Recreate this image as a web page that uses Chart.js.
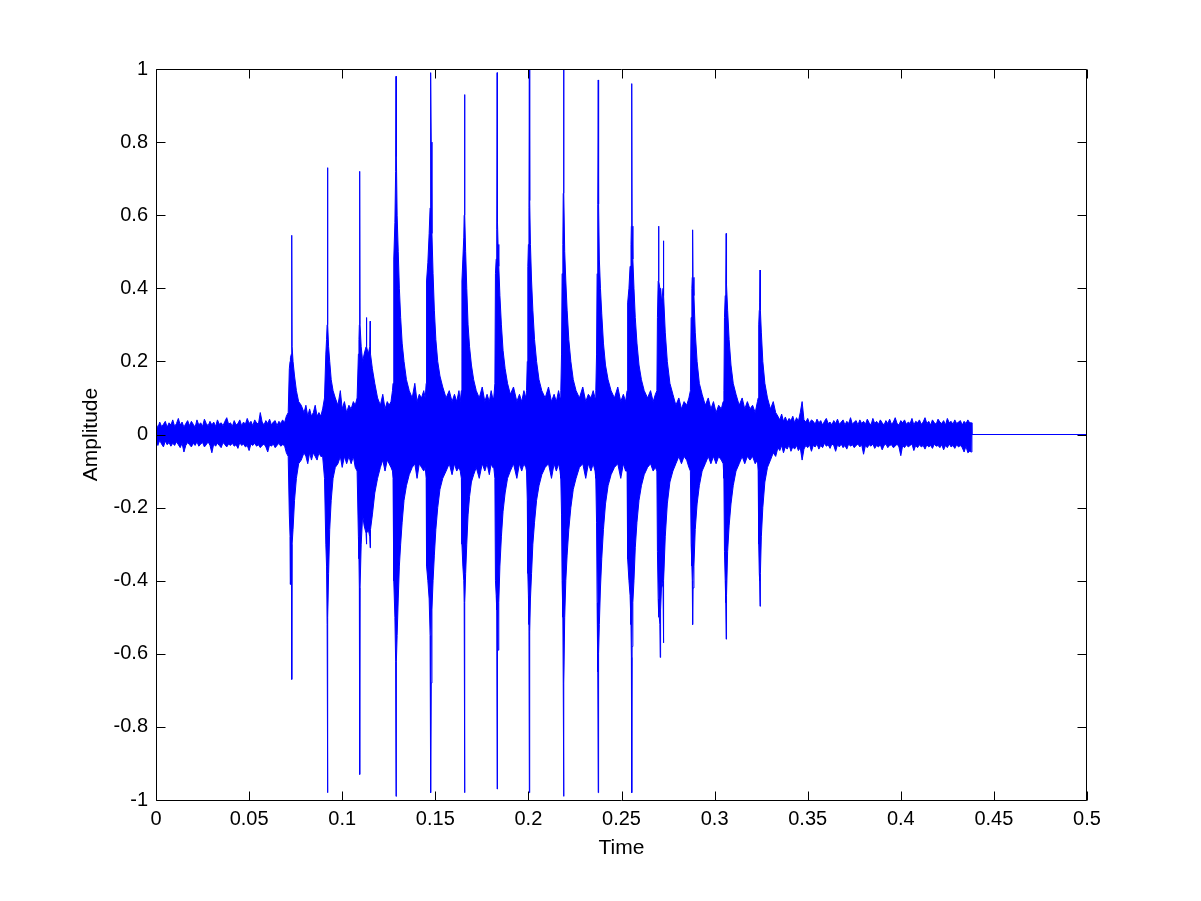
<!DOCTYPE html>
<html>
<head>
<meta charset="utf-8">
<title>Amplitude vs Time</title>
<script src="https://cdn.jsdelivr.net/npm/chart.js@4.4.1/dist/chart.umd.min.js"></script>
<style>
  html, body { margin: 0; padding: 0; background: #fff; }
  #wave { display: block; }
</style>
</head>
<body>
<canvas id="wave" width="1201" height="901"></canvas>
<script>
const timeTicks = [0, 0.05, 0.1, 0.15, 0.2, 0.25, 0.3, 0.35, 0.4, 0.45, 0.5];
const ampTicks = [-1, -0.8, -0.6, -0.4, -0.2, 0, 0.2, 0.4, 0.6, 0.8, 1];

// envelope of the waveform: time (s), upper and lower amplitude.
// one line per stretch: lead noise, the 15 clicks, tail noise, silence
const timeSec = [
  0.000, 0.001, 0.002, 0.003, 0.004, 0.005, 0.006, 0.007, 0.008, 0.009,
  0.010, 0.011, 0.012, 0.013, 0.014, 0.015, 0.016, 0.017, 0.018, 0.019,
  0.020, 0.021, 0.022, 0.023, 0.024, 0.025, 0.026, 0.027, 0.028, 0.029,
  0.030, 0.031, 0.032, 0.033, 0.034, 0.035, 0.036, 0.037, 0.038, 0.039,
  0.040, 0.041, 0.042, 0.043, 0.044, 0.045, 0.046, 0.047, 0.048, 0.049,
  0.050, 0.051, 0.052, 0.053, 0.054, 0.055, 0.056, 0.057, 0.058, 0.059,
  0.060, 0.061, 0.062, 0.063, 0.064, 0.065, 0.066, 0.067, 0.068, 0.069,
  0.0700, 0.0710, 0.0716, 0.0720, 0.0722, 0.0727, 0.0729, 0.0731, 0.0736, 0.0744, 0.0754, 0.0766, 0.0780, 0.0795, 0.0805, 0.0815, 0.0825, 0.0835, 0.0845, 0.0855, 0.0865, 0.0875, 0.0885,
  0.0895, 0.0905, 0.0912, 0.0916, 0.0919, 0.0921, 0.0923, 0.0927, 0.0933, 0.0941, 0.0951, 0.0963, 0.0977, 0.0990, 0.1000, 0.1012, 0.1024, 0.1036, 0.1048, 0.1060, 0.1070,
  0.1080, 0.1087, 0.1090, 0.1092, 0.1094, 0.1096, 0.1102, 0.1110, 0.1118, 0.1128, 0.1130, 0.1132, 0.1140, 0.1148, 0.1150, 0.1152, 0.1162, 0.1175, 0.1190, 0.1205, 0.1218, 0.1230, 0.1242, 0.1252,
  0.1262, 0.1270, 0.1273, 0.1277, 0.1283, 0.1287, 0.1289, 0.1291, 0.1295, 0.1301, 0.1307, 0.1314, 0.1322, 0.1332, 0.1345, 0.1360, 0.1376, 0.1390, 0.1402, 0.1414, 0.1426, 0.1438,
  0.1446, 0.1451, 0.1453, 0.1460, 0.1467, 0.1472, 0.1474, 0.1476, 0.1478, 0.1482, 0.1488, 0.1495, 0.1503, 0.1513, 0.1525, 0.1540, 0.1558, 0.1575, 0.1590, 0.1603, 0.1615, 0.1627,
  0.1634, 0.1640, 0.1643, 0.1648, 0.1653, 0.1655, 0.1657, 0.1659, 0.1663, 0.1669, 0.1676, 0.1684, 0.1694, 0.1706, 0.1720, 0.1736, 0.1752, 0.1766, 0.1778, 0.1790, 0.1800, 0.1808,
  0.1814, 0.1820, 0.1823, 0.1827, 0.1830, 0.1832, 0.1834, 0.1837, 0.1841, 0.1847, 0.1855, 0.1864, 0.1875, 0.1888, 0.1903, 0.1920, 0.1938, 0.1952, 0.1964, 0.1976, 0.1986,
  0.1990, 0.1994, 0.1997, 0.2000, 0.2003, 0.2005, 0.2007, 0.2011, 0.2017, 0.2024, 0.2033, 0.2044, 0.2057, 0.2072, 0.2090, 0.2108, 0.2124, 0.2138, 0.2150, 0.2162, 0.2170,
  0.2174, 0.2178, 0.2181, 0.2185, 0.2187, 0.2189, 0.2191, 0.2195, 0.2201, 0.2208, 0.2217, 0.2228, 0.2241, 0.2256, 0.2274, 0.2292, 0.2308, 0.2322, 0.2336, 0.2348, 0.2358,
  0.2362, 0.2366, 0.2369, 0.2372, 0.2373, 0.2375, 0.2377, 0.2381, 0.2387, 0.2394, 0.2403, 0.2414, 0.2428, 0.2444, 0.2462, 0.2480, 0.2496, 0.2510, 0.2522,
  0.2530, 0.2533, 0.2540, 0.2546, 0.2551, 0.2553, 0.2555, 0.2557, 0.2561, 0.2567, 0.2574, 0.2583, 0.2594, 0.2607, 0.2622, 0.2640, 0.2656, 0.2670, 0.2682,
  0.2690, 0.2693, 0.2697, 0.2699, 0.2701, 0.2706, 0.2708, 0.2710, 0.2716, 0.2723, 0.2725, 0.2727, 0.2735, 0.2746, 0.2760, 0.2776, 0.2792, 0.2808, 0.2822, 0.2836, 0.2850, 0.2862,
  0.2870, 0.2874, 0.2878, 0.2880, 0.2882, 0.2884, 0.2889, 0.2896, 0.2906, 0.2918, 0.2933, 0.2950, 0.2966, 0.2980, 0.2994, 0.3008, 0.3022, 0.3036, 0.3046,
  0.3050, 0.3053, 0.3057, 0.3060, 0.3062, 0.3064, 0.3070, 0.3078, 0.3088, 0.3100, 0.3115, 0.3132, 0.3148, 0.3162, 0.3176, 0.3190, 0.3204, 0.3218, 0.3230,
  0.3234, 0.3237, 0.3240, 0.3242, 0.3244, 0.3246, 0.3251, 0.3259, 0.3270, 0.3284, 0.3300, 0.3315, 0.3328,
  0.334, 0.335, 0.336, 0.337, 0.338, 0.339, 0.340, 0.341, 0.342, 0.343,
  0.344, 0.345, 0.346, 0.347, 0.348, 0.349, 0.350, 0.351, 0.352, 0.353,
  0.354, 0.355, 0.356, 0.357, 0.358, 0.359, 0.360, 0.361, 0.362, 0.363,
  0.364, 0.365, 0.366, 0.367, 0.368, 0.369, 0.370, 0.371, 0.372, 0.373,
  0.374, 0.375, 0.376, 0.377, 0.378, 0.379, 0.380, 0.381, 0.382, 0.383,
  0.384, 0.385, 0.386, 0.387, 0.388, 0.389, 0.390, 0.391, 0.392, 0.393,
  0.394, 0.395, 0.396, 0.397, 0.398, 0.399, 0.400, 0.401, 0.402, 0.403,
  0.404, 0.405, 0.406, 0.407, 0.408, 0.409, 0.410, 0.411, 0.412, 0.413,
  0.414, 0.415, 0.416, 0.417, 0.418, 0.419, 0.420, 0.421, 0.422, 0.423,
  0.424, 0.425, 0.426, 0.427, 0.428, 0.429, 0.430, 0.431, 0.432, 0.433,
  0.434, 0.435, 0.436, 0.437,
  0.4380, 0.4382, 0.5,
];
const upperAmp = [
  .030, .018, .034, .022, .028, .036, .020, .032, .026, .040,
  .022, .030, .044, .026, .034, .020, .030, .038, .024, .036,
  .028, .020, .040, .026, .032, .022, .042, .030, .024, .036,
  .026, .034, .022, .040, .028, .032, .024, .036, .046, .028,
  .032, .022, .038, .026, .030, .040, .024, .034, .028, .044,
  .030, .036, .024, .040, .032, .028, .060, .034, .026, .038,
  .030, .042, .026, .034, .038, .024, .036, .030, .040, .032,
  .05, .06, .18, .20, .21, .22, .545, .24, .20, .16, .12, .09, .08, .06, .08, .05, .07, .05, .06, .08, .05, .06, .05,
  .07, .10, .22, .26, .30, .73, .30, .24, .20, .15, .12, .10, .08, .12, .07, .09, .06, .08, .07, .09, .08,
  .10, .22, .26, .30, .72, .30, .24, .20, .22, .24, .32, .24, .22, .24, .31, .22, .18, .14, .10, .08, .11, .07, .09, .08,
  .09, .12, .14, .48, .58, .72, .98, .76, .60, .50, .40, .32, .25, .20, .15, .12, .10, .14, .09, .11, .10, .12,
  .10, .14, .42, .47, .55, .62, .80, .99, .80, .55, .44, .34, .26, .20, .16, .13, .10, .12, .09, .11, .09, .12,
  .09, .12, .42, .48, .54, .60, .93, .60, .50, .40, .30, .24, .19, .15, .12, .10, .13, .09, .11, .09, .12, .10,
  .10, .14, .44, .48, .56, .99, .58, .52, .46, .38, .30, .23, .18, .14, .11, .13, .09, .11, .09, .12, .10,
  .12, .20, .46, .52, .62, 1.0, .64, .52, .42, .34, .26, .20, .15, .12, .10, .13, .09, .11, .09, .12, .10,
  .12, .22, .44, .52, .66, 1.0, .66, .50, .42, .34, .26, .20, .15, .12, .10, .13, .09, .11, .10, .12, .10,
  .12, .22, .44, .52, .63, .97, .63, .48, .40, .33, .25, .19, .15, .12, .10, .13, .09, .11, .09,
  .12, .36, .40, .46, .52, .57, .96, .57, .48, .40, .32, .25, .19, .15, .12, .10, .12, .09, .11,
  .12, .32, .42, .57, .42, .40, .38, .40, .36, .40, .53, .38, .28, .20, .14, .11, .08, .10, .07, .09, .08, .10,
  .12, .32, .40, .43, .56, .43, .38, .28, .20, .14, .11, .08, .10, .07, .09, .06, .08, .07, .09,
  .12, .32, .38, .42, .55, .41, .34, .26, .19, .14, .11, .08, .10, .07, .09, .07, .08, .06, .09,
  .10, .30, .34, .36, .45, .34, .28, .20, .14, .10, .07, .09, .06,
  .050, .040, .056, .036, .048, .034, .044, .038, .050, .032,
  .046, .036, .060, .090, .040, .034, .044, .030, .040, .036,
  .028, .042, .032, .038, .026, .036, .044, .030, .034, .026,
  .038, .030, .042, .028, .034, .040, .026, .036, .030, .046,
  .028, .034, .038, .026, .040, .030, .036, .028, .042, .032,
  .026, .044, .030, .036, .028, .040, .032, .026, .038, .030,
  .042, .028, .034, .046, .030, .026, .038, .032, .040, .028,
  .034, .030, .044, .026, .036, .032, .040, .028, .034, .046,
  .030, .036, .026, .040, .032, .028, .042, .034, .030, .038,
  .026, .044, .032, .036, .028, .040, .030, .034, .038, .026,
  .036, .030, .040, .032,
  .032, 0, 0,
];
const lowerAmp = [
  -.020, -.030, -.016, -.026, -.034, -.018, -.028, -.022, -.032, -.024,
  -.030, -.020, -.028, -.036, -.024, -.048, -.030, -.022, -.028, -.034,
  -.024, -.030, -.020, -.032, -.026, -.022, -.034, -.028, -.020, -.030,
  -.050, -.026, -.032, -.024, -.030, -.036, -.022, -.028, -.034, -.026,
  -.030, -.024, -.032, -.028, -.038, -.022, -.030, -.026, -.034, -.030,
  -.044, -.026, -.030, -.024, -.032, -.028, -.036, -.030, -.026, -.034,
  -.048, -.028, -.032, -.026, -.036, -.030, -.024, -.032, -.028, -.030,
  -.05, -.06, -.22, -.28, -.41, -.30, -.67, -.30, -.26, -.18, -.12, -.08, -.07, -.05, -.06, -.08, -.05, -.07, -.05, -.06, -.07, -.05, -.06,
  -.06, -.12, -.30, -.36, -.52, -.98, -.50, -.38, -.26, -.18, -.12, -.09, -.08, -.06, -.09, -.06, -.08, -.06, -.08, -.06, -.09,
  -.10, -.28, -.34, -.42, -.93, -.42, -.30, -.22, -.25, -.27, -.30, -.27, -.26, -.28, -.31, -.26, -.22, -.16, -.12, -.09, -.07, -.10, -.07, -.08,
  -.09, -.10, -.12, -.40, -.50, -.62, -.99, -.62, -.55, -.45, -.36, -.30, -.24, -.18, -.14, -.11, -.09, -.08, -.12, -.08, -.09, -.10,
  -.09, -.12, -.36, -.40, -.45, -.55, -.68, -.98, -.68, -.48, -.40, -.33, -.26, -.20, -.15, -.12, -.10, -.08, -.11, -.08, -.10, -.09,
  -.10, -.12, -.30, -.36, -.40, -.46, -.98, -.46, -.38, -.30, -.22, -.17, -.13, -.11, -.09, -.12, -.08, -.10, -.08, -.11, -.08, -.09,
  -.09, -.12, -.40, -.44, -.48, -.97, -.50, -.59, -.46, -.36, -.28, -.21, -.16, -.12, -.10, -.08, -.12, -.08, -.10, -.08, -.09,
  -.10, -.18, -.38, -.44, -.52, -.98, -.54, -.45, -.38, -.30, -.24, -.18, -.14, -.11, -.09, -.08, -.12, -.08, -.10, -.08, -.10,
  -.12, -.22, -.40, -.50, -.68, -.99, -.68, -.50, -.40, -.33, -.26, -.20, -.15, -.12, -.09, -.08, -.12, -.08, -.10, -.08, -.10,
  -.12, -.24, -.46, -.55, -.65, -.98, -.60, -.52, -.42, -.34, -.26, -.19, -.14, -.11, -.09, -.08, -.12, -.08, -.10,
  -.10, -.34, -.40, -.44, -.52, -.61, -.98, -.58, -.46, -.40, -.31, -.24, -.18, -.14, -.11, -.09, -.08, -.10, -.09,
  -.10, -.32, -.45, -.50, -.48, -.52, -.61, -.48, -.40, -.42, -.57, -.40, -.28, -.19, -.13, -.10, -.08, -.06, -.08, -.06, -.07, -.09,
  -.10, -.30, -.36, -.40, -.52, -.42, -.36, -.26, -.19, -.14, -.10, -.08, -.06, -.08, -.06, -.08, -.06, -.07, -.08,
  -.12, -.32, -.40, -.46, -.56, -.44, -.32, -.25, -.19, -.14, -.10, -.08, -.06, -.08, -.06, -.07, -.06, -.08, -.07,
  -.10, -.30, -.38, -.40, -.47, -.38, -.28, -.20, -.13, -.09, -.07, -.05, -.06,
  -.036, -.044, -.030, -.050, -.034, -.040, -.028, -.046, -.034, -.040,
  -.030, -.044, -.036, -.070, -.040, -.030, -.036, -.028, -.046, -.030,
  -.034, -.026, -.040, -.030, -.036, -.024, -.032, -.028, -.038, -.026,
  -.030, -.046, -.028, -.034, -.026, -.036, -.030, -.040, -.026, -.032,
  -.028, -.036, -.030, -.026, -.034, -.028, -.054, -.030, -.036, -.028,
  -.032, -.026, -.038, -.030, -.034, -.028, -.042, -.030, -.026, -.036,
  -.030, -.028, -.036, -.032, -.026, -.034, -.058, -.030, -.036, -.028,
  -.034, -.030, -.026, -.044, -.030, -.036, -.028, -.034, -.030, -.040,
  -.028, -.034, -.030, -.038, -.026, -.032, -.030, -.036, -.028, -.042,
  -.030, -.036, -.026, -.034, -.030, -.038, -.028, -.034, -.030, -.036,
  -.048, -.032, -.050, -.046,
  -.048, 0, 0,
];

if (upperAmp.length !== timeSec.length || lowerAmp.length !== timeSec.length) {
  console.error("envelope length mismatch", timeSec.length, upperAmp.length, lowerAmp.length);
}

const lineBlue = "#0000ff";
Chart.defaults.font.family = "'Liberation Sans', Arial, sans-serif";
Chart.defaults.font.size = 20;
Chart.defaults.color = "#000";

// matlab style box with inward ticks on all four sides
const boxTicks = {
  id: "boxTicks",
  afterDatasetsDraw(chart) {
    const { ctx, chartArea: a, scales } = chart;
    const left = Math.floor(a.left) + 0.5;
    const right = Math.floor(a.right) - 0.5;
    const top = Math.floor(a.top) + 0.5;
    const bottom = Math.floor(a.bottom) + 0.5;
    const len = 9;
    ctx.save();
    ctx.strokeStyle = "#000";
    ctx.lineWidth = 1;
    ctx.beginPath();
    ctx.rect(left, top, right - left, bottom - top);
    timeTicks.forEach((v) => {
      const x = Math.round(scales.x.getPixelForValue(v)) + 0.5;
      ctx.moveTo(x, bottom); ctx.lineTo(x, bottom - len);
      ctx.moveTo(x, top); ctx.lineTo(x, top + len);
    });
    ampTicks.forEach((v) => {
      const y = Math.round(scales.y.getPixelForValue(v)) + 0.5;
      ctx.moveTo(left, y); ctx.lineTo(left + len, y);
      ctx.moveTo(right, y); ctx.lineTo(right - len, y);
    });
    ctx.stroke();
    ctx.restore();
  },
};

const toPoints = (values) => timeSec.map((t, i) => ({ x: t, y: values[i] }));

new Chart(document.getElementById("wave"), {
  type: "line",
  data: {
    datasets: [
      {
        label: "upper",
        data: toPoints(upperAmp),
        borderColor: lineBlue,
        backgroundColor: lineBlue,
        borderWidth: 1,
        pointRadius: 0,
        tension: 0,
        fill: "+1",
      },
      {
        label: "lower",
        data: toPoints(lowerAmp),
        borderColor: lineBlue,
        borderWidth: 1,
        pointRadius: 0,
        tension: 0,
        fill: false,
      },
    ],
  },
  options: {
    responsive: false,
    animation: false,
    events: [],
    layout: { padding: { top: 69, right: 114, bottom: 0, left: 0 } },
    plugins: { legend: { display: false }, tooltip: { enabled: false } },
    scales: {
      x: {
        type: "linear",
        min: 0,
        max: 0.5,
        afterBuildTicks: (s) => { s.ticks = timeTicks.map((v) => ({ value: v })); },
        afterFit: (s) => { s.height = 101; },
        grid: { display: false, drawTicks: false },
        border: { display: false },
        ticks: { autoSkip: false, maxRotation: 0, padding: 7, callback: (v) => String(v) },
        title: { display: true, text: "Time", font: { size: 21 }, padding: { top: 0, bottom: 40 } },
      },
      y: {
        type: "linear",
        min: -1,
        max: 1,
        afterBuildTicks: (s) => { s.ticks = ampTicks.map((v) => ({ value: v })); },
        afterFit: (s) => { s.width = 156; },
        grid: { display: false, drawTicks: false },
        border: { display: false },
        ticks: { autoSkip: false, padding: 8, callback: (v) => String(v) },
        title: { display: true, text: "Amplitude", font: { size: 21 }, padding: { top: 79, bottom: 0 } },
      },
    },
  },
  plugins: [boxTicks],
});
</script>
</body>
</html>
